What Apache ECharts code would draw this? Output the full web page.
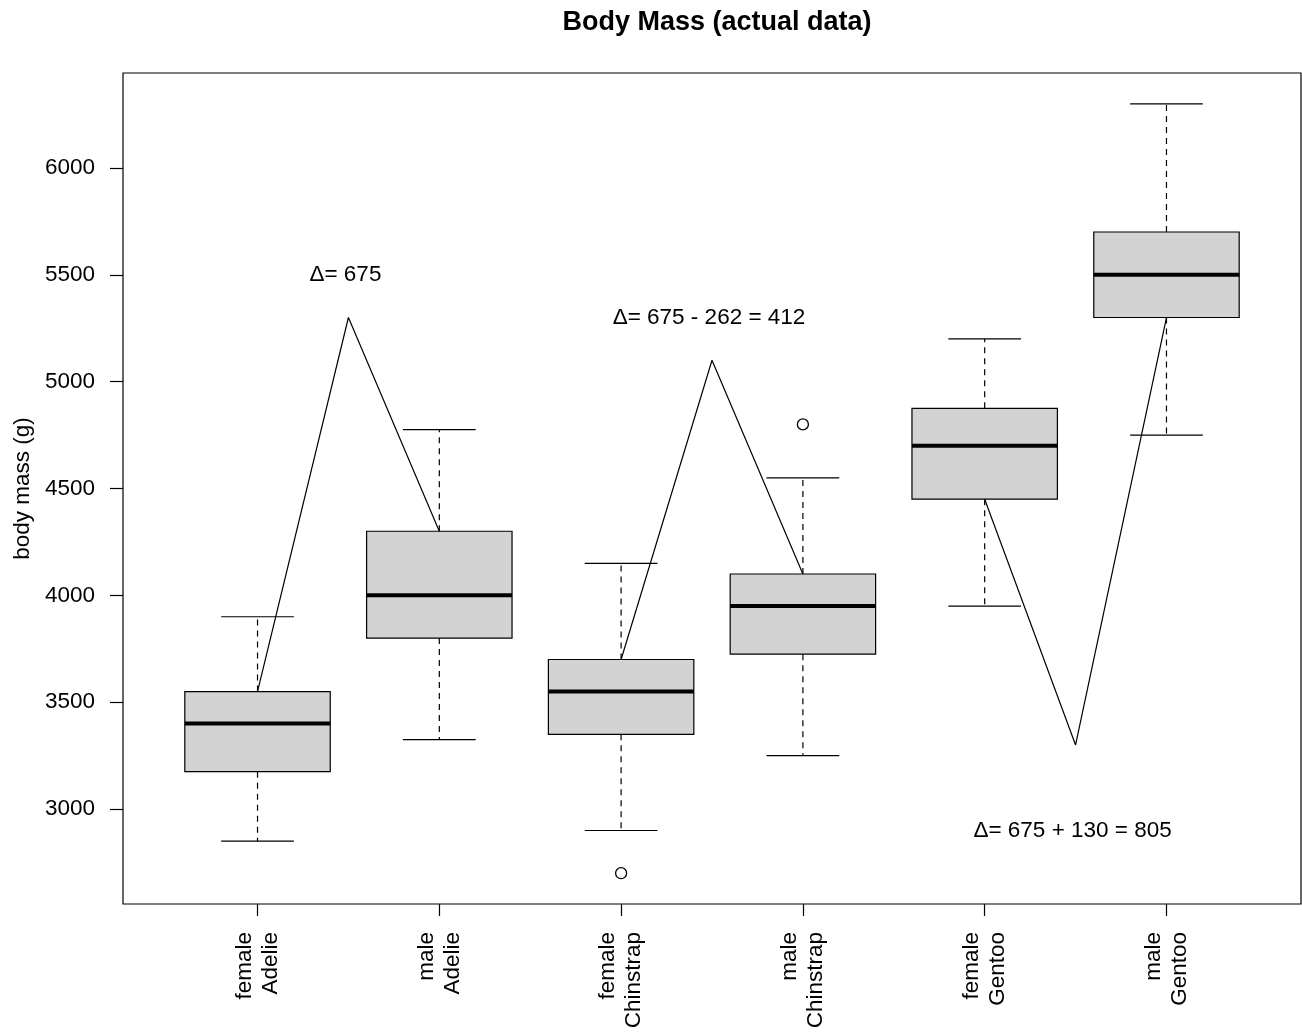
<!DOCTYPE html>
<html>
<head>
<meta charset="utf-8">
<title>Body Mass (actual data)</title>
<script src="https://cdn.jsdelivr.net/npm/echarts@6/dist/echarts.min.js"></script>
<style>
html, body { margin: 0; padding: 0; background: #fff; }
#chart { width: 1302px; height: 1032px; }
</style>
</head>
<body>
<div id="chart"></div>
<script>
// groups on the x axis (index 0..5)
const categories = ['female\nAdelie', 'male\nAdelie', 'female\nChinstrap', 'male\nChinstrap', 'female\nGentoo', 'male\nGentoo']

// box statistics
const lowWhisker = [2850, 3325, 2900, 3250, 3950, 4750]
const q1 = [3175, 3800, 3350, 3725, 4450, 5300]
const median = [3400, 4000, 3550, 3950, 4700, 5500]
const q3 = [3550, 4300, 3700, 4100, 4875, 5700]
const highWhisker = [3900, 4775, 4150, 4550, 5200, 6300]
const outliers = [[2, 2700], [3, 4800]]

// the three zig-zag lines, x in group units
const zigzag1 = [[0, 3550], [0.5, 5300], [1, 4300]]
const zigzag2 = [[2, 3700], [2.5, 5100], [3, 4100]]
const zigzag3 = [[4, 4450], [4.5, 3300], [5, 5300]]

// text notes
const notes = [
    [0.5, 5500, 'Δ= 675'],
    [2.5, 5300, 'Δ= 675 - 262 = 412'],
    [4.5, 2900, 'Δ= 675 + 130 = 805']
]

const yTicks = [3000, 3500, 4000, 4500, 5000, 5500, 6000]
const xTicks = [0, 1, 2, 3, 4, 5]

const font = '"Liberation Sans", Arial, sans-serif'
const fs = 22.5

const boxData = categories.map((c, i) => [i, lowWhisker[i], q1[i], median[i], q3[i], highWhisker[i]])

const chart = echarts.init(document.getElementById('chart'))

const renderBox = (params, api) => {
    const x = api.value(0)
    const half = api.size([0.8, 0])[0] / 2
    const cap = half / 2
    const pLow = api.coord([x, api.value(1)])
    const pQ1 = api.coord([x, api.value(2)])
    const pMed = api.coord([x, api.value(3)])
    const pQ3 = api.coord([x, api.value(4)])
    const pHigh = api.coord([x, api.value(5)])
    const cx = pMed[0]
    const thin = { stroke: '#000', lineWidth: 1.2 }
    const dashed = { stroke: '#000', lineWidth: 1.2, lineDash: [6, 5] }
    return {
        type: 'group',
        children: [
            { type: 'line', shape: { x1: cx, y1: pQ3[1], x2: cx, y2: pHigh[1] }, style: dashed },
            { type: 'line', shape: { x1: cx, y1: pQ1[1], x2: cx, y2: pLow[1] }, style: dashed },
            { type: 'line', shape: { x1: cx - cap, y1: pHigh[1], x2: cx + cap, y2: pHigh[1] }, style: thin },
            { type: 'line', shape: { x1: cx - cap, y1: pLow[1], x2: cx + cap, y2: pLow[1] }, style: thin },
            {
                type: 'rect',
                shape: { x: cx - half, y: pQ3[1], width: half * 2, height: pQ1[1] - pQ3[1] },
                style: { fill: '#d3d3d3', stroke: '#000', lineWidth: 1.2 }
            },
            { type: 'line', shape: { x1: cx - half, y1: pMed[1], x2: cx + half, y2: pMed[1] }, style: { stroke: '#000', lineWidth: 4 } }
        ]
    }
}

const lineSeries = (data) => ({
    type: 'line',
    data: data,
    symbol: 'none',
    lineStyle: { color: '#000', width: 1.2 },
    z: 5,
    silent: true
})

const option = {
    backgroundColor: '#fff',
    animation: false,
    title: {
        text: 'Body Mass (actual data)',
        left: 712,
        top: 4,
        textAlign: 'center',
        textStyle: { fontFamily: font, fontSize: 27, fontWeight: 'bold', color: '#000' }
    },
    grid: {
        left: 123,
        right: 1,
        top: 73,
        bottom: 128,
        show: true,
        borderColor: '#000',
        borderWidth: 1.2,
        backgroundColor: 'transparent'
    },
    xAxis: {
        type: 'value',
        min: -0.74,
        max: 5.74,
        splitLine: { show: false },
        axisLine: { show: false, onZero: false },
        axisTick: { show: true, customValues: xTicks, length: 12, lineStyle: { color: '#000', width: 1.2 } },
        axisLabel: {
            customValues: xTicks,
            rotate: 90,
            margin: 28,
            fontFamily: font,
            fontSize: fs,
            lineHeight: 26,
            color: '#000',
            formatter: (v) => categories[Math.round(v)]
        }
    },
    yAxis: {
        type: 'value',
        min: 2556,
        max: 6444,
        name: 'body mass (g)',
        nameLocation: 'middle',
        nameGap: 62,
        nameTextStyle: { fontFamily: font, fontSize: fs, color: '#000' },
        splitLine: { show: false },
        axisLine: { show: false, onZero: false },
        axisTick: { show: true, customValues: yTicks, length: 13, lineStyle: { color: '#000', width: 1.2 } },
        axisLabel: {
            customValues: yTicks,
            margin: 28,
            fontFamily: font,
            fontSize: fs,
            color: '#000',
            formatter: (v) => String(v)
        }
    },
    series: [
        {
            type: 'custom',
            data: boxData,
            encode: { x: 0, y: [1, 2, 3, 4, 5] },
            renderItem: renderBox,
            z: 2,
            silent: true
        },
        {
            type: 'scatter',
            data: outliers,
            symbol: 'circle',
            symbolSize: 11,
            itemStyle: { color: '#fff', borderColor: '#000', borderWidth: 1.3, opacity: 1 },
            z: 3
        },
        lineSeries(zigzag1),
        lineSeries(zigzag2),
        lineSeries(zigzag3),
        {
            type: 'scatter',
            data: notes,
            symbolSize: 1,
            itemStyle: { color: 'transparent', opacity: 1 },
            label: {
                show: true,
                position: 'inside',
                offset: [-3, 0],
                formatter: (p) => p.data[2],
                fontFamily: font,
                fontSize: fs,
                color: '#000'
            },
            z: 6
        }
    ]
}

chart.setOption(option)
</script>
</body>
</html>
